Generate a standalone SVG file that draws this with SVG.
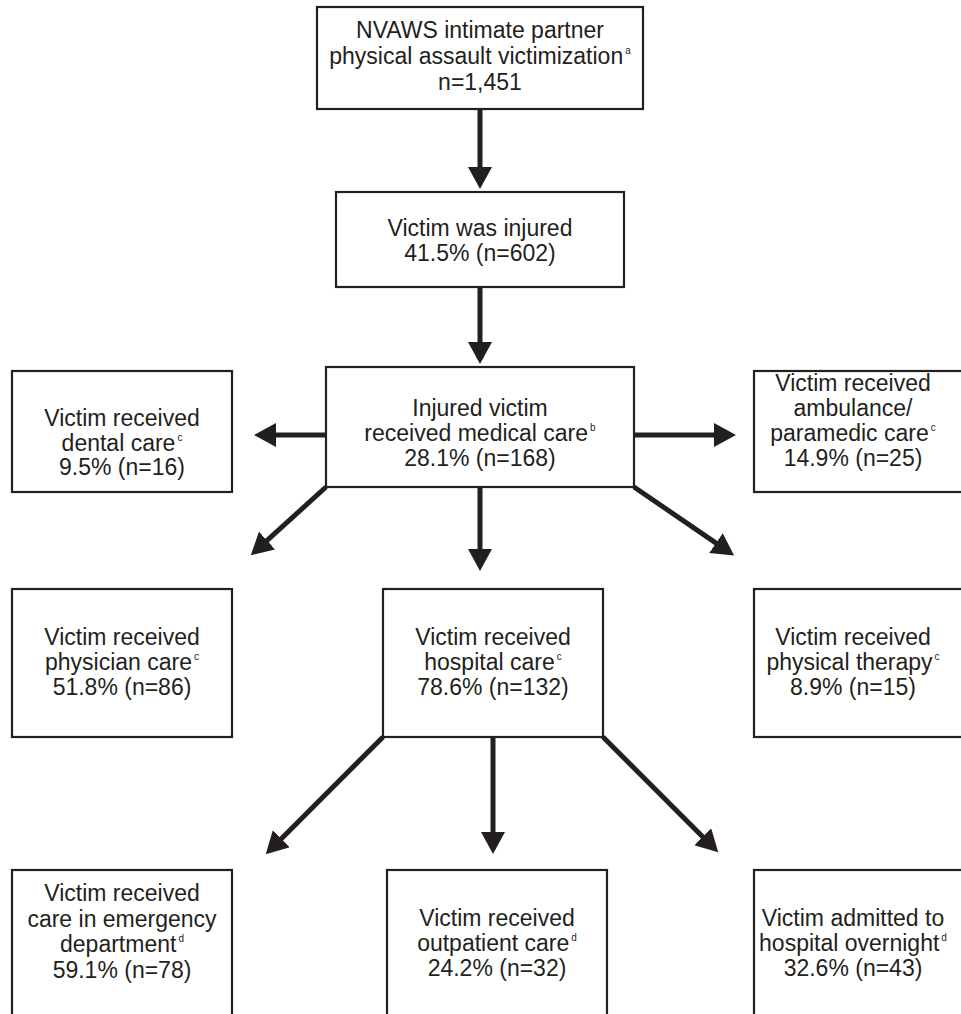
<svg xmlns="http://www.w3.org/2000/svg" width="961" height="1014" viewBox="0 0 961 1014">
<style>
.box{fill:#fff;stroke:#231f20;stroke-width:2.2}
.t{font-family:"Liberation Sans",Arial,sans-serif;font-size:23px;fill:#231f20;text-anchor:middle}
.s{font-size:10px}
.c{stroke:#231f20;stroke-width:5;fill:none;marker-end:url(#ah)}
</style>
<defs>
<marker id="ah" markerUnits="userSpaceOnUse" viewBox="0 -12 22 24" markerWidth="22" markerHeight="24" refX="1" refY="0" orient="auto">
<path d="M0,-12 L22,0 L0,12 z" fill="#231f20"/>
</marker>
</defs>
<rect width="961" height="1014" fill="#fff"/>
<g id="connectors">
<line class="c" x1="480" y1="110" x2="480" y2="168"/>
<line class="c" x1="480" y1="288" x2="480" y2="343"/>
<line class="c" x1="326" y1="435" x2="275" y2="435"/>
<line class="c" x1="634" y1="435" x2="715" y2="435"/>
<line class="c" x1="326" y1="487" x2="266.3" y2="541.2"/>
<line class="c" x1="480" y1="488" x2="480" y2="550"/>
<line class="c" x1="634" y1="487" x2="716.8" y2="543.6"/>
<line class="c" x1="383" y1="737" x2="280.6" y2="839.4"/>
<line class="c" x1="493" y1="738" x2="493" y2="833"/>
<line class="c" x1="603" y1="737" x2="703.4" y2="837.4"/>
</g>
<g id="n1">
<rect class="box" x="317" y="7" width="326" height="102"/>
<text class="t" x="480" y="38">NVAWS intimate partner</text>
<text class="t" x="480" y="64">physical assault victimization<tspan class="s" dx="2" dy="-10">a</tspan></text>
<text class="t" x="480" y="90">n=1,451</text>
</g>
<g id="n2">
<rect class="box" x="336" y="192" width="288" height="95"/>
<text class="t" x="480" y="236">Victim was injured</text>
<text class="t" x="480" y="261">41.5% (n=602)</text>
</g>
<g id="n3">
<rect class="box" x="326" y="367" width="308" height="120"/>
<text class="t" x="480" y="416">Injured victim</text>
<text class="t" x="480" y="441">received medical care<tspan class="s" dx="2" dy="-10">b</tspan></text>
<text class="t" x="480" y="466">28.1% (n=168)</text>
</g>
<g id="n4">
<rect class="box" x="12" y="371" width="220" height="121"/>
<text class="t" x="122" y="426">Victim received</text>
<text class="t" x="122" y="451">dental care<tspan class="s" dx="2" dy="-10">c</tspan></text>
<text class="t" x="122" y="475">9.5% (n=16)</text>
</g>
<g id="n5">
<rect class="box" x="754" y="371" width="220" height="121"/>
<text class="t" x="853" y="391">Victim received</text>
<text class="t" x="853" y="416">ambulance/</text>
<text class="t" x="853" y="441">paramedic care<tspan class="s" dx="2" dy="-10">c</tspan></text>
<text class="t" x="853" y="466">14.9% (n=25)</text>
</g>
<g id="n6">
<rect class="box" x="12" y="589" width="220" height="148"/>
<text class="t" x="122" y="645">Victim received</text>
<text class="t" x="122" y="670">physician care<tspan class="s" dx="2" dy="-10">c</tspan></text>
<text class="t" x="122" y="695">51.8% (n=86)</text>
</g>
<g id="n7">
<rect class="box" x="383" y="589" width="220" height="148"/>
<text class="t" x="493" y="645">Victim received</text>
<text class="t" x="493" y="670">hospital care<tspan class="s" dx="2" dy="-10">c</tspan></text>
<text class="t" x="493" y="695">78.6% (n=132)</text>
</g>
<g id="n8">
<rect class="box" x="754" y="589" width="220" height="148"/>
<text class="t" x="853" y="645">Victim received</text>
<text class="t" x="853" y="670">physical therapy<tspan class="s" dx="2" dy="-10">c</tspan></text>
<text class="t" x="853" y="695">8.9% (n=15)</text>
</g>
<g id="n9">
<rect class="box" x="12" y="870" width="220" height="160"/>
<text class="t" x="122" y="901">Victim received</text>
<text class="t" x="122" y="927">care in emergency</text>
<text class="t" x="122" y="952">department<tspan class="s" dx="2" dy="-10">d</tspan></text>
<text class="t" x="122" y="978">59.1% (n=78)</text>
</g>
<g id="n10">
<rect class="box" x="387" y="870" width="220" height="160"/>
<text class="t" x="497" y="926">Victim received</text>
<text class="t" x="497" y="951">outpatient care<tspan class="s" dx="2" dy="-10">d</tspan></text>
<text class="t" x="497" y="976">24.2% (n=32)</text>
</g>
<g id="n11">
<rect class="box" x="754" y="870" width="220" height="160"/>
<text class="t" x="853" y="926">Victim admitted to</text>
<text class="t" x="853" y="951">hospital overnight<tspan class="s" dx="2" dy="-10">d</tspan></text>
<text class="t" x="853" y="976">32.6% (n=43)</text>
</g>
</svg>
